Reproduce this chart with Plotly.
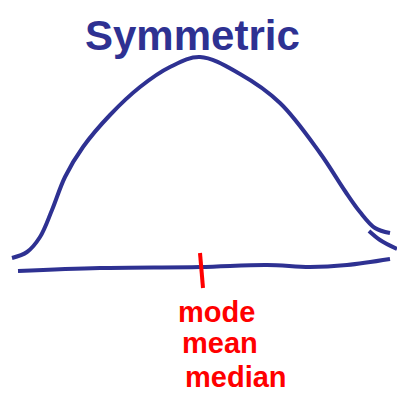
import plotly.graph_objects as go

# Sketch, in pixel units (x to the right, y downwards)
CLR_INK = "#2e3192"
CLR_RED = "#ff0000"
W, H = 397, 399

curve_x = [12, 27, 40, 52, 65, 83, 110, 140, 170, 200,
           240, 280, 320, 345, 360, 375, 390]
curve_y = [258, 252, 237, 210, 177, 147, 115, 87, 67, 57,
           74, 103, 153, 191, 212, 228, 233]

tail_x = [369, 380, 397]
tail_y = [231, 240, 249]

base_x = [18, 100, 200, 267, 310, 347, 390]
base_y = [271, 268, 267, 265, 267, 265, 259]

tick_x = [200, 203]
tick_y = [253, 288]

labels = ["mode", "mean", "median"]
TITLE = "Symmetric"

LINE = dict(color=CLR_INK, width=4, shape="spline", smoothing=1.0)
FONT_FAM = "Liberation Sans"

fig = go.Figure()
fig.add_trace(go.Scatter(x=curve_x, y=curve_y, mode="lines", line=LINE))
fig.add_trace(go.Scatter(x=tail_x, y=tail_y, mode="lines", line=LINE))
fig.add_trace(go.Scatter(x=base_x, y=base_y, mode="lines", line=LINE))
fig.add_trace(go.Scatter(x=tick_x, y=tick_y, mode="lines", line=dict(color=CLR_RED, width=4)))

fig.add_annotation(x=192, y=35, text=TITLE, showarrow=False,
                   font=dict(family=FONT_FAM, size=42, color=CLR_INK, weight="bold"))
for lbl, (lx, ly) in zip(labels, [(216, 312), (220, 343), (236, 377)]):
    fig.add_annotation(x=lx, y=ly, text=lbl, showarrow=False,
                       font=dict(family=FONT_FAM, size=29, color=CLR_RED, weight="bold"))

fig.update_layout(width=W, height=H, margin=dict(l=0, r=0, t=0, b=0),
                  paper_bgcolor="white", plot_bgcolor="white", showlegend=False,
                  xaxis=dict(range=[0, W], visible=False, fixedrange=True),
                  yaxis=dict(range=[H, 0], visible=False, fixedrange=True))
fig.write_html("out.html", config={"displayModeBar": False},
               post_script="document.body.style.margin='0';")
